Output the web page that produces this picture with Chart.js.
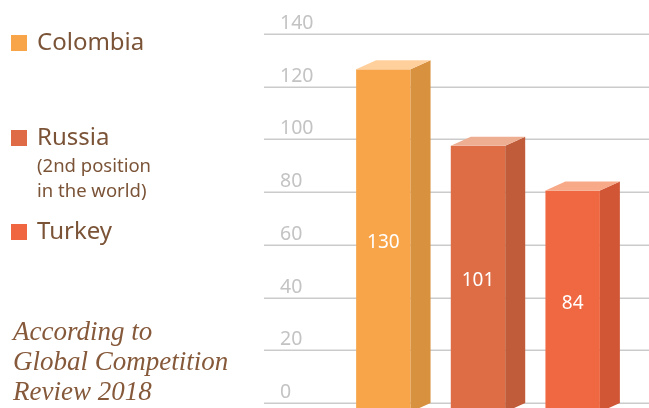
<!DOCTYPE html>
<html>
<head>
<meta charset="utf-8">
<script src="https://cdn.jsdelivr.net/npm/chart.js@4.4.0/dist/chart.umd.min.js"></script>
<style>
  html, body { margin: 0; padding: 0; background: #fff; }
  #wrap { position: relative; width: 649px; height: 408px; overflow: hidden; }
  #chart { position: absolute; left: 0; top: 0; }
  .legend { position: absolute; left: 11px; font-family: "Noto Sans", sans-serif; color: #7b5438; }
  .legend .sq { position: absolute; left: 0; width: 16px; height: 16px; }
  .legend .lbl { position: absolute; left: 26px; white-space: nowrap; font-size: 24px; line-height: 26px; }
  .legend .sub { position: absolute; left: 26px; white-space: nowrap; font-size: 18.5px; line-height: 26px; }
  #note { position: absolute; left: 13px; top: 316px; font-family: "Liberation Serif", serif; font-style: italic;
          font-size: 27px; line-height: 30px; color: #85593a; white-space: nowrap; }
</style>
</head>
<body>
<div id="wrap">
  <canvas id="chart" width="649" height="408"></canvas>
  <div class="legend" style="top:35px">
    <div class="sq" style="background:#f7a548"></div>
    <div class="lbl" style="top:-7px">Colombia</div>
  </div>
  <div class="legend" style="top:130px">
    <div class="sq" style="background:#de6b45"></div>
    <div class="lbl" style="top:-7px">Russia</div>
    <div class="sub" style="top:22px">(2nd position</div>
    <div class="sub" style="top:47px">in the world)</div>
  </div>
  <div class="legend" style="top:224px">
    <div class="sq" style="background:#f06641"></div>
    <div class="lbl" style="top:-7px">Turkey</div>
  </div>
  <div id="note">According to<br>Global Competition<br>Review 2018</div>
</div>
<script>
// values and ticks
const countries = ['Colombia', 'Russia', 'Turkey'];
const values = [130, 101, 84];
const yTicks = [0, 20, 40, 60, 80, 100, 120, 140];
const frontColors = ['#f8a54a', '#de6c45', '#f06841'];
const sideColors = ['#d8913e', '#c05c3a', '#d05636'];
const topColors = ['#ffd09c', '#eeae92', '#f7a988'];

const DX = 20, DY = 9;

// gridlines + tick labels across the full right panel
const gridPlugin = {
  id: 'grid3d',
  beforeDatasetsDraw(chart) {
    const ctx = chart.ctx;
    const y = chart.scales.y;
    ctx.save();
    ctx.strokeStyle = '#cbcbcb';
    ctx.lineWidth = 1.5;
    ctx.fillStyle = '#c3c3c3';
    ctx.font = '19.5px "Noto Sans", sans-serif';
    ctx.textBaseline = 'alphabetic';
    ctx.textAlign = 'left';
    yTicks.forEach(t => {
      const py = Math.round(y.getPixelForValue(t)) + 0.25;
      ctx.beginPath();
      ctx.moveTo(264, py);
      ctx.lineTo(649, py);
      ctx.stroke();
      ctx.fillText(String(t), 280, py - 5);
    });
    ctx.restore();
  },
  afterDatasetsDraw(chart) {
    const ctx = chart.ctx;
    const meta = chart.getDatasetMeta(0);
    ctx.save();
    meta.data.forEach((bar, i) => {
      const w = bar.width;
      const l = bar.x - w / 2, r = bar.x + w / 2;
      const top = bar.y, base = bar.base;
      // front face (shifted down by depth)
      ctx.fillStyle = frontColors[i];
      ctx.fillRect(l, top + DY, w, base - top + 10);
      // side
      ctx.fillStyle = sideColors[i];
      ctx.beginPath();
      ctx.moveTo(r, top + DY);
      ctx.lineTo(r + DX, top);
      ctx.lineTo(r + DX, base);
      ctx.lineTo(r, base + DY);
      ctx.closePath();
      ctx.fill();
      // top
      ctx.fillStyle = topColors[i];
      ctx.beginPath();
      ctx.moveTo(l, top + DY);
      ctx.lineTo(l + DX, top);
      ctx.lineTo(r + DX, top);
      ctx.lineTo(r, top + DY);
      ctx.closePath();
      ctx.fill();
      // value label
      ctx.fillStyle = '#ffffff';
      ctx.font = '19px "Noto Sans", sans-serif';
      ctx.textAlign = 'center';
      ctx.textBaseline = 'middle';
      ctx.fillText(String(values[i]), bar.x, (top + DY + base + DY) / 2 + 2);
    });
    ctx.restore();
  }
};

new Chart(document.getElementById('chart'), {
  type: 'bar',
  data: {
    labels: countries,
    datasets: [{
      data: values,
      backgroundColor: 'rgba(0,0,0,0)',
      borderWidth: 0,
      categoryPercentage: 1,
      barPercentage: 0.575
    }]
  },
  options: {
    responsive: false,
    animation: false,
    layout: { padding: { left: 336, right: 29, top: 34, bottom: 5 } },
    plugins: { legend: { display: false }, tooltip: { enabled: false } },
    scales: {
      x: { display: false },
      y: { display: false, min: 0, max: 140 }
    }
  },
  plugins: [gridPlugin]
});
</script>
</body>
</html>
